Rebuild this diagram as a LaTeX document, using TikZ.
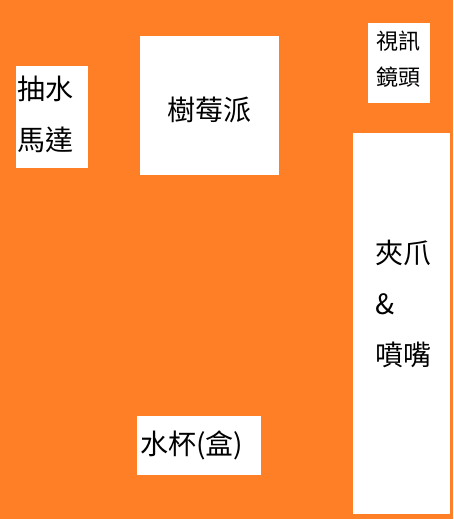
\documentclass[tikz,border=0pt]{standalone}
\usepackage{fontspec}
\newfontfamily\cjk{Noto Sans CJK TC}
\usetikzlibrary{positioning}
\definecolor{boardorange}{RGB}{255,127,39}
\tikzset{
    layout plan/.style = {x=1pt, y=-1pt},
    part/.style        = {fill=white, draw=none, anchor=north west,
                          inner sep=0pt},
    tag/.style         = {font=\cjk\fontsize{28}{51}\selectfont,
                          align=left, inner sep=0pt, anchor=west},
    small tag/.style   = {tag, font=\cjk\fontsize{22}{36.5}\selectfont}
}
\begin{document}
\begin{tikzpicture}[layout plan]

% ================= Board =================
\useasboundingbox (0,0) rectangle (453,519);
\fill[boardorange] (0,0) rectangle (453,519);

% ================= Parts =================
\node[part, minimum width=72pt, minimum height=102pt] (motor) at (16,66) {};
\node[part, minimum width=139pt, minimum height=139pt] (pi) at (140,36) {};
\node[part, minimum width=62pt, minimum height=80pt] (camera) at (368,23) {};
\node[part, minimum width=97pt, minimum height=381pt] (claw) at (353,133) {};
\node[part, minimum width=124pt, minimum height=59pt] (cup) at (137,416) {};

% ================= Labels =================
\node[tag] (motor label) at (17,114.5) {抽水\\馬達};
\node[tag, anchor=center] (pi label) at (209,110) {樹莓派};
\node[small tag] (camera label) at (376,59) {視訊\\鏡頭};
\node[tag] (claw label) at (375,303.5) {夾爪\\\&\\噴嘴};
\node[tag] (cup label) at (140,445) {水杯(盒)};

\end{tikzpicture}
\end{document}
